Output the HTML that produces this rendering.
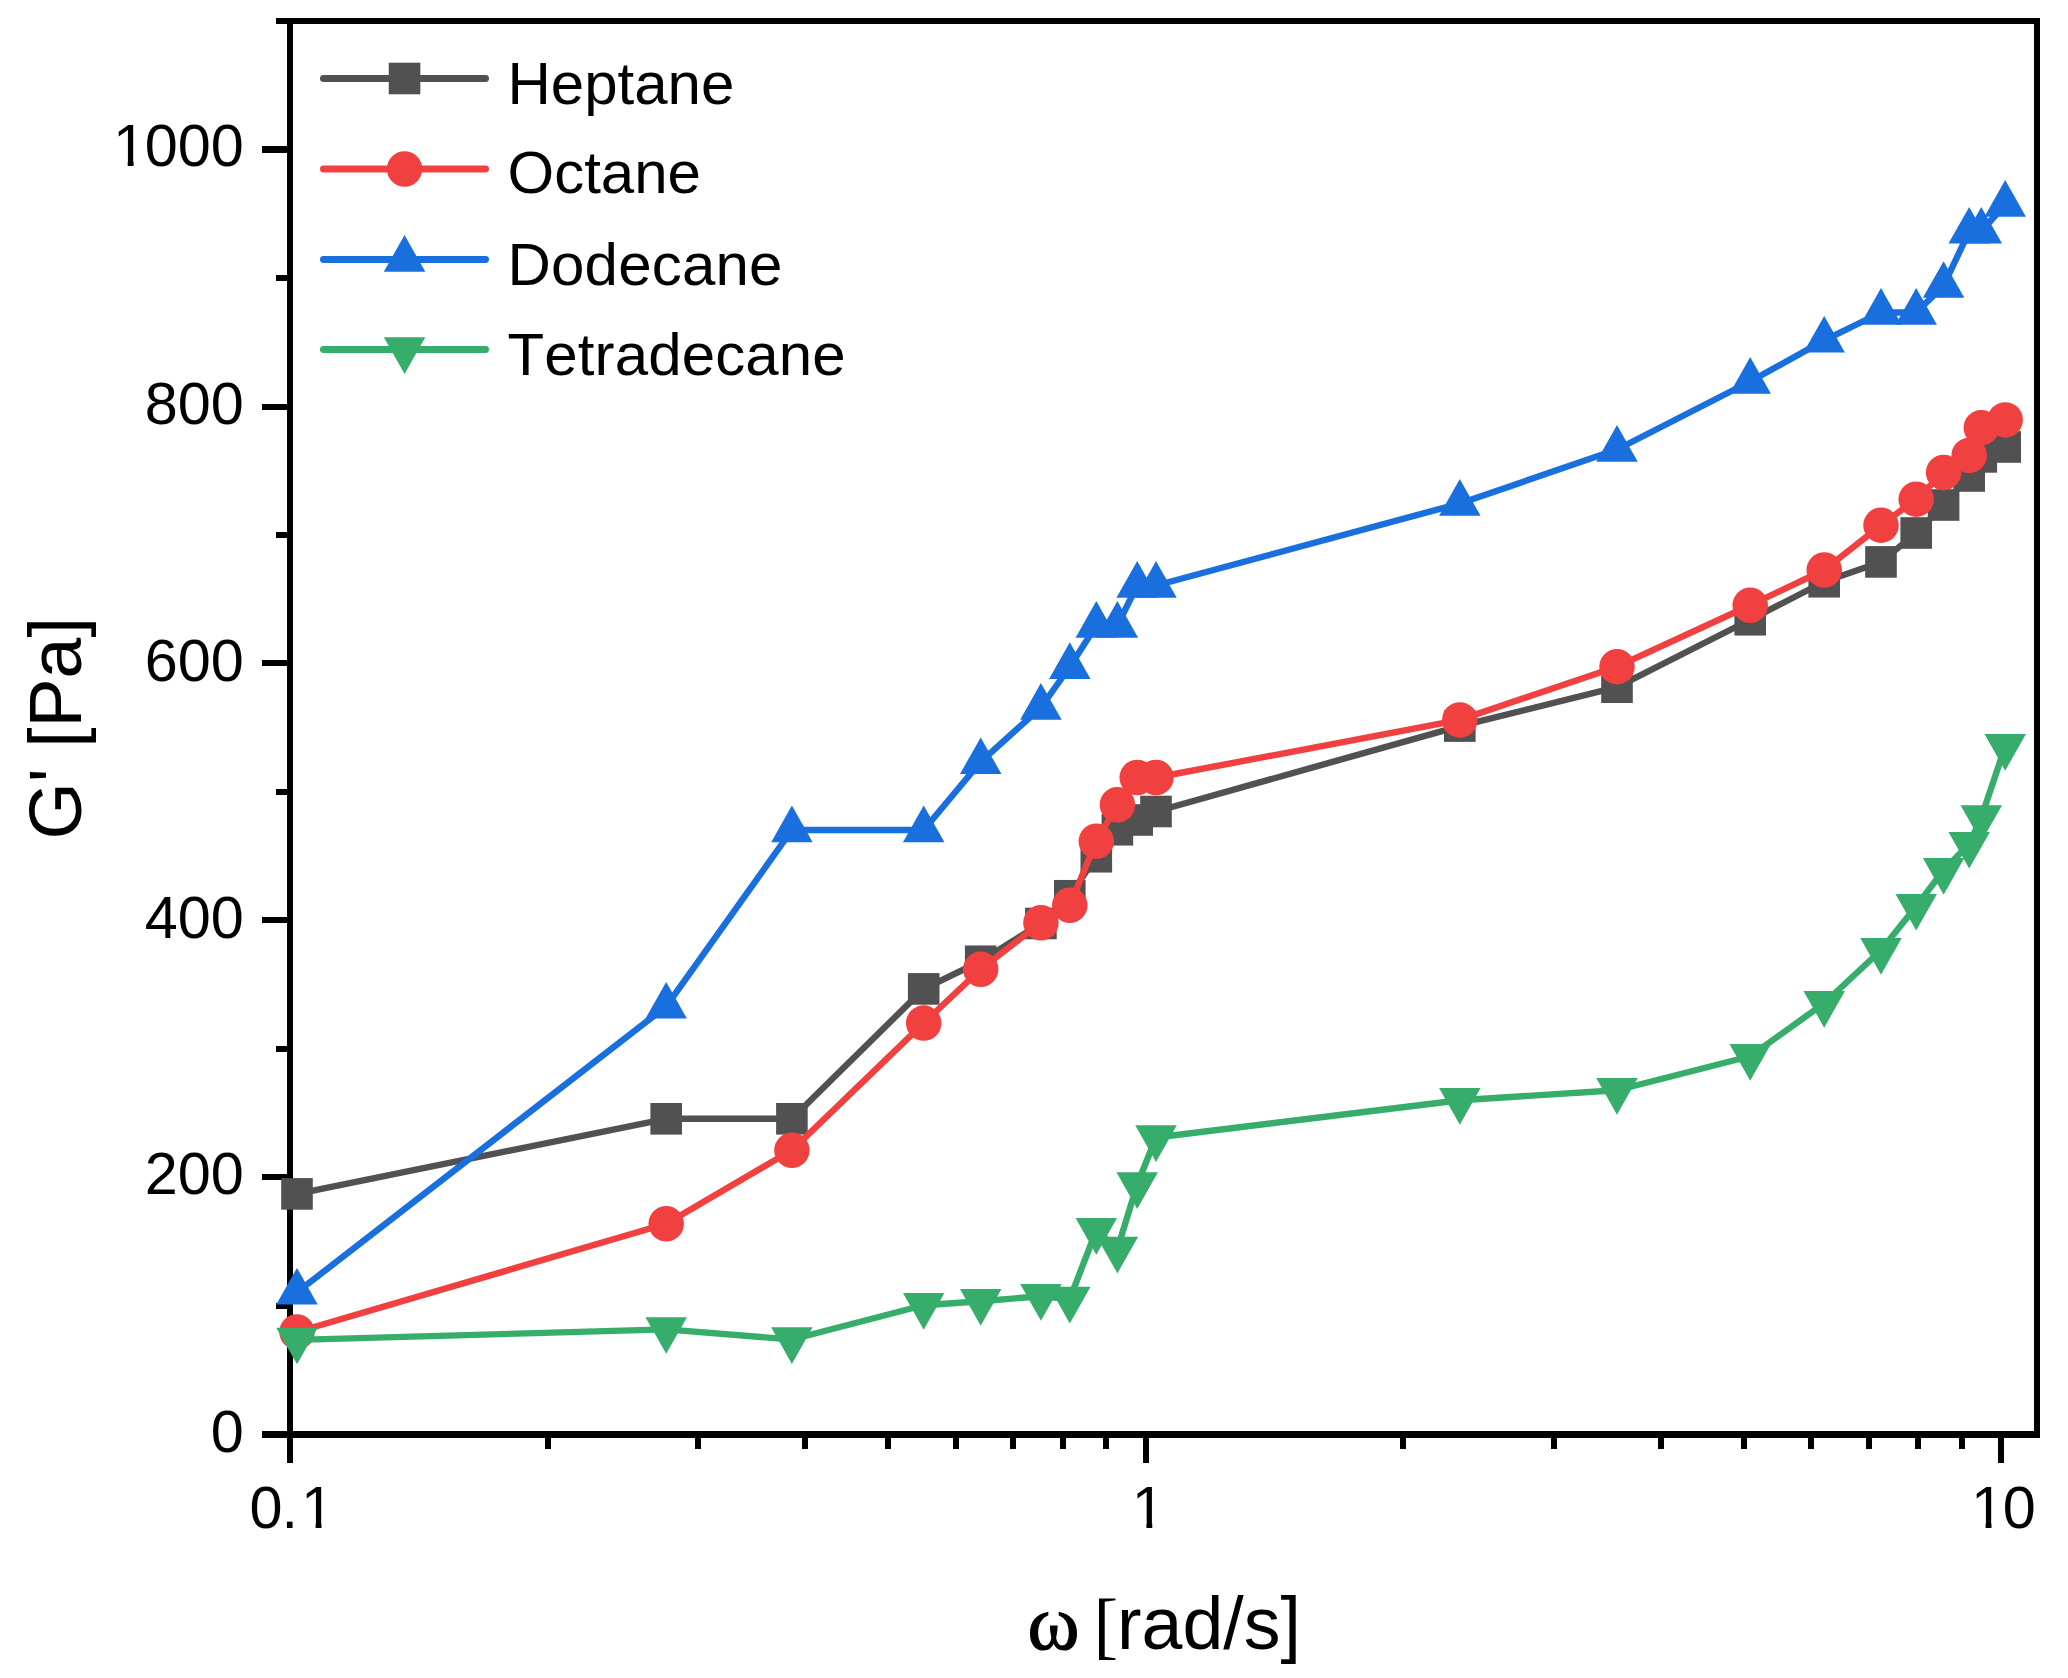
<!DOCTYPE html>
<html lang="en">
<head>
<meta charset="utf-8">
<title>G' vs angular frequency</title>
<style>
html,body{margin:0;padding:0;background:#fff;}
body{width:2068px;height:1678px;overflow:hidden;}
svg{display:block;}
text{font-family:"Liberation Sans",sans-serif;fill:#000;font-kerning:none;font-feature-settings:"kern" 0,"liga" 0;}
.tick{font-size:59.35px;}
.leg{font-size:60px;}
.title{font-size:73.5px;}
.sym{font-family:"Liberation Serif",serif;}
</style>
</head>
<body>
<svg width="2068" height="1678" viewBox="0 0 2068 1678">
<rect x="0" y="0" width="2068" height="1678" fill="#fff"/>
<g fill="#000" shape-rendering="crispEdges">
<rect x="287" y="18" width="6" height="1445"/>
<rect x="2034" y="18" width="6" height="1420"/>
<rect x="276" y="18" width="1764" height="6"/>
<rect x="262" y="1431" width="1778" height="7"/>
<rect x="262" y="1174" width="26" height="6"/>
<rect x="262" y="917" width="26" height="6"/>
<rect x="262" y="660" width="26" height="6"/>
<rect x="262" y="404" width="26" height="6"/>
<rect x="262" y="146" width="26" height="7"/>
<rect x="276" y="1303" width="12" height="6"/>
<rect x="276" y="1046" width="12" height="6"/>
<rect x="276" y="789" width="12" height="6"/>
<rect x="276" y="532" width="12" height="6"/>
<rect x="276" y="275" width="12" height="6"/>
<rect x="1143" y="1437" width="6" height="26"/>
<rect x="1998" y="1437" width="6" height="26"/>
<rect x="545" y="1437" width="6" height="12"/>
<rect x="695" y="1437" width="6" height="12"/>
<rect x="802" y="1437" width="6" height="12"/>
<rect x="885" y="1437" width="6" height="12"/>
<rect x="953" y="1437" width="6" height="12"/>
<rect x="1010" y="1437" width="6" height="12"/>
<rect x="1060" y="1437" width="6" height="12"/>
<rect x="1103" y="1437" width="6" height="12"/>
<rect x="1400" y="1437" width="6" height="12"/>
<rect x="1551" y="1437" width="6" height="12"/>
<rect x="1658" y="1437" width="6" height="12"/>
<rect x="1741" y="1437" width="6" height="12"/>
<rect x="1808" y="1437" width="6" height="12"/>
<rect x="1866" y="1437" width="6" height="12"/>
<rect x="1915" y="1437" width="6" height="12"/>
<rect x="1959" y="1437" width="6" height="12"/>
</g>
<g fill="none" stroke="#515151" stroke-width="6.4" stroke-linejoin="round" stroke-linecap="round">
<polyline points="297,1193.9 666.2,1118.8 791.9,1118.8 923.7,988.9 980.7,961.25 1040.9,923.5 1069.8,895.75 1096.3,856.75 1117.4,829.75 1137.2,820 1156,811.5 1459.8,726.1 1617,687.2 1750.2,619.75 1824.2,581.75 1881,561.9 1916.2,533 1943.6,505 1969.2,476 1981.3,456.9 2005.2,447"/>
</g>
<g>
<rect x="281.2" y="1178.1" width="31.6" height="31.6" fill="#515151"/>
<rect x="650.4" y="1103" width="31.6" height="31.6" fill="#515151"/>
<rect x="776.1" y="1103" width="31.6" height="31.6" fill="#515151"/>
<rect x="907.9" y="973.1" width="31.6" height="31.6" fill="#515151"/>
<rect x="964.9" y="945.45" width="31.6" height="31.6" fill="#515151"/>
<rect x="1025.1" y="907.7" width="31.6" height="31.6" fill="#515151"/>
<rect x="1054" y="879.95" width="31.6" height="31.6" fill="#515151"/>
<rect x="1080.5" y="840.95" width="31.6" height="31.6" fill="#515151"/>
<rect x="1101.6" y="813.95" width="31.6" height="31.6" fill="#515151"/>
<rect x="1121.4" y="804.2" width="31.6" height="31.6" fill="#515151"/>
<rect x="1140.2" y="795.7" width="31.6" height="31.6" fill="#515151"/>
<rect x="1444" y="710.3" width="31.6" height="31.6" fill="#515151"/>
<rect x="1601.2" y="671.4" width="31.6" height="31.6" fill="#515151"/>
<rect x="1734.4" y="603.95" width="31.6" height="31.6" fill="#515151"/>
<rect x="1808.4" y="565.95" width="31.6" height="31.6" fill="#515151"/>
<rect x="1865.2" y="546.1" width="31.6" height="31.6" fill="#515151"/>
<rect x="1900.4" y="517.2" width="31.6" height="31.6" fill="#515151"/>
<rect x="1927.8" y="489.2" width="31.6" height="31.6" fill="#515151"/>
<rect x="1953.4" y="460.2" width="31.6" height="31.6" fill="#515151"/>
<rect x="1965.5" y="441.1" width="31.6" height="31.6" fill="#515151"/>
<rect x="1989.4" y="431.2" width="31.6" height="31.6" fill="#515151"/>
</g>
<g fill="none" stroke="#F14040" stroke-width="6.4" stroke-linejoin="round" stroke-linecap="round">
<polyline points="297,1332 666.2,1223.75 791.9,1150.25 923.7,1023.1 980.7,969.25 1040.9,922.75 1069.8,905.25 1096.3,841.25 1117.4,804.75 1137.2,777.5 1156,777.5 1459.8,719.9 1617,666.7 1750.2,605.25 1824.2,570 1881,525.2 1916.2,499.2 1943.6,472.5 1969.2,455.4 1981.3,427.7 2005.2,419.9"/>
</g>
<g>
<circle cx="297" cy="1332" r="17.75" fill="#F14040"/>
<circle cx="666.2" cy="1223.75" r="17.75" fill="#F14040"/>
<circle cx="791.9" cy="1150.25" r="17.75" fill="#F14040"/>
<circle cx="923.7" cy="1023.1" r="17.75" fill="#F14040"/>
<circle cx="980.7" cy="969.25" r="17.75" fill="#F14040"/>
<circle cx="1040.9" cy="922.75" r="17.75" fill="#F14040"/>
<circle cx="1069.8" cy="905.25" r="17.75" fill="#F14040"/>
<circle cx="1096.3" cy="841.25" r="17.75" fill="#F14040"/>
<circle cx="1117.4" cy="804.75" r="17.75" fill="#F14040"/>
<circle cx="1137.2" cy="777.5" r="17.75" fill="#F14040"/>
<circle cx="1156" cy="777.5" r="17.75" fill="#F14040"/>
<circle cx="1459.8" cy="719.9" r="17.75" fill="#F14040"/>
<circle cx="1617" cy="666.7" r="17.75" fill="#F14040"/>
<circle cx="1750.2" cy="605.25" r="17.75" fill="#F14040"/>
<circle cx="1824.2" cy="570" r="17.75" fill="#F14040"/>
<circle cx="1881" cy="525.2" r="17.75" fill="#F14040"/>
<circle cx="1916.2" cy="499.2" r="17.75" fill="#F14040"/>
<circle cx="1943.6" cy="472.5" r="17.75" fill="#F14040"/>
<circle cx="1969.2" cy="455.4" r="17.75" fill="#F14040"/>
<circle cx="1981.3" cy="427.7" r="17.75" fill="#F14040"/>
<circle cx="2005.2" cy="419.9" r="17.75" fill="#F14040"/>
</g>
<g fill="none" stroke="#1A6FDF" stroke-width="6.4" stroke-linejoin="round" stroke-linecap="round">
<polyline points="297,1292.3 666.2,1006.4 791.9,830 923.7,830 980.7,761.8 1040.9,707.5 1069.8,666.75 1096.3,625.5 1117.4,625.5 1137.2,585.5 1156,585.5 1459.8,503.5 1617,449.5 1750.2,381.5 1824.2,340.4 1881,312.5 1916.2,312.5 1943.6,285.6 1969.2,231.4 1981.3,231.4 2005.2,204.5"/>
</g>
<g>
<polygon points="297,1267.9 276.25,1304.5 317.75,1304.5" fill="#1A6FDF"/>
<polygon points="666.2,982 645.45,1018.6 686.95,1018.6" fill="#1A6FDF"/>
<polygon points="791.9,805.6 771.15,842.2 812.65,842.2" fill="#1A6FDF"/>
<polygon points="923.7,805.6 902.95,842.2 944.45,842.2" fill="#1A6FDF"/>
<polygon points="980.7,737.4 959.95,774 1001.45,774" fill="#1A6FDF"/>
<polygon points="1040.9,683.1 1020.15,719.7 1061.65,719.7" fill="#1A6FDF"/>
<polygon points="1069.8,642.35 1049.05,678.95 1090.55,678.95" fill="#1A6FDF"/>
<polygon points="1096.3,601.1 1075.55,637.7 1117.05,637.7" fill="#1A6FDF"/>
<polygon points="1117.4,601.1 1096.65,637.7 1138.15,637.7" fill="#1A6FDF"/>
<polygon points="1137.2,561.1 1116.45,597.7 1157.95,597.7" fill="#1A6FDF"/>
<polygon points="1156,561.1 1135.25,597.7 1176.75,597.7" fill="#1A6FDF"/>
<polygon points="1459.8,479.1 1439.05,515.7 1480.55,515.7" fill="#1A6FDF"/>
<polygon points="1617,425.1 1596.25,461.7 1637.75,461.7" fill="#1A6FDF"/>
<polygon points="1750.2,357.1 1729.45,393.7 1770.95,393.7" fill="#1A6FDF"/>
<polygon points="1824.2,316 1803.45,352.6 1844.95,352.6" fill="#1A6FDF"/>
<polygon points="1881,288.1 1860.25,324.7 1901.75,324.7" fill="#1A6FDF"/>
<polygon points="1916.2,288.1 1895.45,324.7 1936.95,324.7" fill="#1A6FDF"/>
<polygon points="1943.6,261.2 1922.85,297.8 1964.35,297.8" fill="#1A6FDF"/>
<polygon points="1969.2,207 1948.45,243.6 1989.95,243.6" fill="#1A6FDF"/>
<polygon points="1981.3,207 1960.55,243.6 2002.05,243.6" fill="#1A6FDF"/>
<polygon points="2005.2,180.1 1984.45,216.7 2025.95,216.7" fill="#1A6FDF"/>
</g>
<g fill="none" stroke="#37AD6B" stroke-width="6.4" stroke-linejoin="round" stroke-linecap="round">
<polyline points="297,1339.9 666.2,1329.4 791.9,1339.5 923.7,1305.25 980.7,1301.25 1040.9,1296.25 1069.8,1299 1096.3,1230.25 1117.4,1249 1137.2,1184.5 1156,1137.5 1459.8,1100.25 1617,1090.25 1750.2,1056.25 1824.2,1003.25 1881,950.25 1916.2,906.2 1943.6,870.3 1969.2,844.1 1981.3,817.4 2005.2,746.3"/>
</g>
<g>
<polygon points="297,1364.3 276.25,1327.7 317.75,1327.7" fill="#37AD6B"/>
<polygon points="666.2,1353.8 645.45,1317.2 686.95,1317.2" fill="#37AD6B"/>
<polygon points="791.9,1363.9 771.15,1327.3 812.65,1327.3" fill="#37AD6B"/>
<polygon points="923.7,1329.65 902.95,1293.05 944.45,1293.05" fill="#37AD6B"/>
<polygon points="980.7,1325.65 959.95,1289.05 1001.45,1289.05" fill="#37AD6B"/>
<polygon points="1040.9,1320.65 1020.15,1284.05 1061.65,1284.05" fill="#37AD6B"/>
<polygon points="1069.8,1323.4 1049.05,1286.8 1090.55,1286.8" fill="#37AD6B"/>
<polygon points="1096.3,1254.65 1075.55,1218.05 1117.05,1218.05" fill="#37AD6B"/>
<polygon points="1117.4,1273.4 1096.65,1236.8 1138.15,1236.8" fill="#37AD6B"/>
<polygon points="1137.2,1208.9 1116.45,1172.3 1157.95,1172.3" fill="#37AD6B"/>
<polygon points="1156,1161.9 1135.25,1125.3 1176.75,1125.3" fill="#37AD6B"/>
<polygon points="1459.8,1124.65 1439.05,1088.05 1480.55,1088.05" fill="#37AD6B"/>
<polygon points="1617,1114.65 1596.25,1078.05 1637.75,1078.05" fill="#37AD6B"/>
<polygon points="1750.2,1080.65 1729.45,1044.05 1770.95,1044.05" fill="#37AD6B"/>
<polygon points="1824.2,1027.65 1803.45,991.05 1844.95,991.05" fill="#37AD6B"/>
<polygon points="1881,974.65 1860.25,938.05 1901.75,938.05" fill="#37AD6B"/>
<polygon points="1916.2,930.6 1895.45,894 1936.95,894" fill="#37AD6B"/>
<polygon points="1943.6,894.7 1922.85,858.1 1964.35,858.1" fill="#37AD6B"/>
<polygon points="1969.2,868.5 1948.45,831.9 1989.95,831.9" fill="#37AD6B"/>
<polygon points="1981.3,841.8 1960.55,805.2 2002.05,805.2" fill="#37AD6B"/>
<polygon points="2005.2,770.7 1984.45,734.1 2025.95,734.1" fill="#37AD6B"/>
</g>
<g stroke-width="6.8" stroke-linecap="round">
<line x1="323.4" y1="78.5" x2="485.6" y2="78.5" stroke="#515151"/>
<line x1="323.4" y1="169" x2="485.6" y2="169" stroke="#F14040"/>
<line x1="323.4" y1="259.5" x2="485.6" y2="259.5" stroke="#1A6FDF"/>
<line x1="323.4" y1="349.5" x2="485.6" y2="349.5" stroke="#37AD6B"/>
</g>
<rect x="388.75" y="62.7" width="31.6" height="31.6" fill="#515151"/>
<circle cx="404.55" cy="169" r="17.75" fill="#F14040"/>
<polygon points="404.55,235.1 383.8,271.7 425.3,271.7" fill="#1A6FDF"/>
<polygon points="404.55,373.9 383.8,337.3 425.3,337.3" fill="#37AD6B"/>
<text class="leg" x="507.5" y="104" letter-spacing="0">Heptane</text>
<text class="leg" x="507.5" y="193.25" letter-spacing="0">Octane</text>
<text class="leg" x="507.5" y="284.5" letter-spacing="0.2">Dodecane</text>
<text class="leg" x="507.5" y="375" letter-spacing="0.13">Tetradecane</text>
<text class="tick" transform="translate(0 1452) scale(1 1)" x="210.7" y="0">0</text>
<text class="tick" transform="translate(0 1194.3) scale(1 1)" x="144.7 177.7 210.7" y="0">200</text>
<text class="tick" transform="translate(0 938.3) scale(1 1)" x="144.7 177.7 210.7" y="0">400</text>
<text class="tick" transform="translate(0 681) scale(1 1)" x="144.7 177.7 210.7" y="0">600</text>
<text class="tick" transform="translate(0 424.4) scale(1 1)" x="144.7 177.7 210.7" y="0">800</text>
<clipPath id="c1">
<rect x="103.1" y="106.4" width="157.6" height="54.47"/>
<rect x="127.72" y="159.87" width="5.85" height="8.53"/>
<rect x="144.98" y="159.87" width="137.6" height="11.53"/>
</clipPath>
<g clip-path="url(#c1)"><text class="tick" transform="translate(0 166.4) scale(1 1)" x="113.1 144.7 177.7 210.7" y="0">1000</text></g>
<clipPath id="c2">
<rect x="239.6" y="1467.5" width="111.4" height="54.47"/>
<rect x="315.62" y="1520.97" width="5.85" height="8.53"/>
<rect x="239.6" y="1520.97" width="64.88" height="11.53"/>
</clipPath>
<g clip-path="url(#c2)"><text class="tick" transform="translate(0 1527.5) scale(1 1)" x="249.6 281.5 301" y="0">0.1</text></g>
<clipPath id="c3">
<rect x="1121.8" y="1467.5" width="60" height="54.47"/>
<rect x="1146.42" y="1520.97" width="5.85" height="8.53"/>
</clipPath>
<g clip-path="url(#c3)"><text class="tick" transform="translate(0 1527.5) scale(1 1)" x="1131.8" y="0">1</text></g>
<clipPath id="c4">
<rect x="1961" y="1467.5" width="91.65" height="54.47"/>
<rect x="1985.62" y="1520.97" width="5.85" height="8.53"/>
<rect x="2002.88" y="1520.97" width="71.65" height="11.53"/>
</clipPath>
<g clip-path="url(#c4)"><text class="tick" transform="translate(0 1527.5) scale(1 1)" x="1971 2002.65" y="0">10</text></g>
<text class="title sym" x="1027.6" y="1648.8" style="font-size:79px;stroke:#000;stroke-width:1.2px">ω</text>
<text class="title sym" x="1093.4" y="1650" style="font-size:74px">[</text>
<text class="title" x="1117.1" y="1648.9">rad/s]</text>
<text class="title" transform="translate(80.8 728.3) rotate(-90)" text-anchor="middle">G' [Pa]</text>
</svg>
</body>
</html>
